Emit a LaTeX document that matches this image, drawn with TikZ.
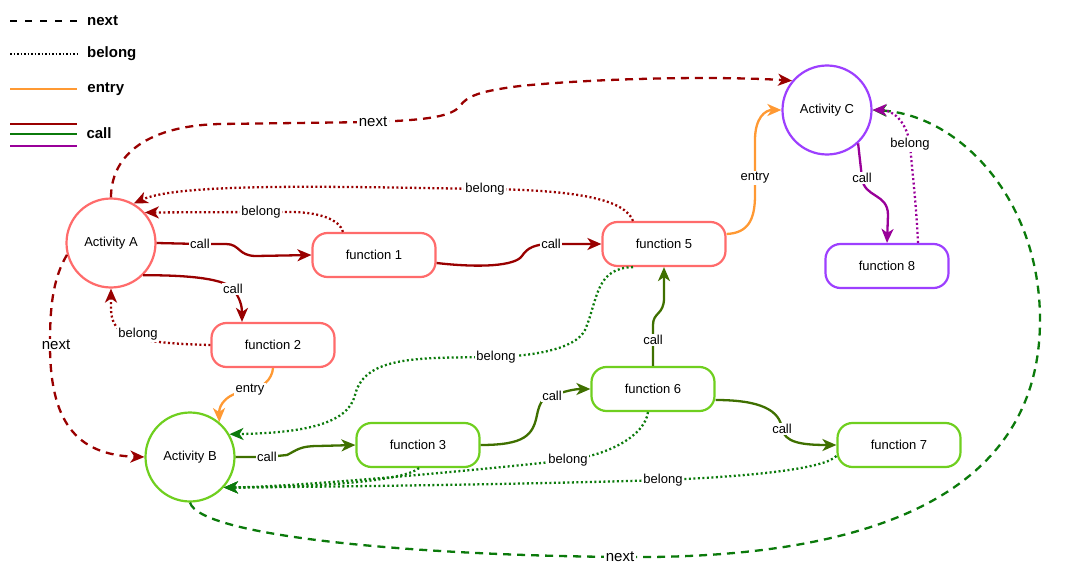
\documentclass[tikz,border=0pt]{standalone}
\usepackage{fontspec}
\setmainfont{Liberation Sans}
\usetikzlibrary{arrows.meta}
\definecolor{linered}{HTML}{990000}
\definecolor{linegreen}{HTML}{0B7A0B}
\definecolor{lineolive}{HTML}{3F7000}
\definecolor{linepurple}{HTML}{990099}
\definecolor{lineorange}{HTML}{FF9933}
\definecolor{boxred}{HTML}{FF6B6B}
\definecolor{boxgreen}{HTML}{6FCF1F}
\definecolor{boxpurple}{HTML}{9D3FFF}

\begin{document}
\begin{tikzpicture}[x=1pt, y=-1pt,
  every node/.style={font=\fontsize{13}{15}\selectfont},
  activity/.style={draw, circle, line width=2.2pt, minimum size=89pt, inner sep=0pt, fill=white},
  funcbox/.style={draw, rectangle, rounded corners=15pt, line width=2.2pt, minimum width=123pt, minimum height=44pt, fill=white},
  headed/.style={-{Stealth[length=14pt, width=12pt, inset=4pt]}},
  lbl/.style={fill=white, inner sep=1.5pt, text=black},
  nextlbl/.style={font=\fontsize{15}{18}\selectfont},
  legtxt/.style={anchor=west, text=black, font=\fontsize{15}{18}\selectfont\bfseries},
  nextred/.style={draw=linered, line width=2.3pt, dash pattern=on 8pt off 6pt, headed},
  nextgreen/.style={draw=linegreen, line width=2.3pt, dash pattern=on 8pt off 6pt, headed},
  belongred/.style={draw=linered, line width=2.3pt, dash pattern=on 2pt off 2.5pt, headed},
  belonggreen/.style={draw=linegreen, line width=2.3pt, dash pattern=on 2pt off 2.5pt, headed},
  belongpurple/.style={draw=linepurple, line width=2.3pt, dash pattern=on 2pt off 2.5pt, headed},
  callred/.style={draw=linered, line width=2.3pt, headed},
  callgreen/.style={draw=lineolive, line width=2.3pt, headed},
  callpurple/.style={draw=linepurple, line width=2.3pt, headed},
  entryline/.style={draw=lineorange, line width=2.3pt, headed}]
\useasboundingbox (0,0) rectangle (1080,578);

 % Legend
 \draw[draw=black, line width=1.8pt, dash pattern=on 7pt off 8pt] (10,21) -- (77,21) node[legtxt, xshift=6pt] (lnext) {next};
 \draw[draw=black, line width=1.8pt, dash pattern=on 1.5pt off 2pt] (10,54) -- (77,54) node[legtxt, xshift=6pt] (lbelong) {belong};
 \draw[draw=lineorange, line width=2.2pt] (10,89) -- (77,89) node[legtxt, xshift=6pt] (lentry) {entry};
 \draw[draw=linered, line width=2.2pt] (10,124) -- (77,124);
 \draw[draw=linegreen, line width=2.2pt] (10,134) -- (77,134);
 \draw[draw=linepurple, line width=2.2pt] (10,146) -- (77,146);
 \node[legtxt] (lcall) at (83,133) {call};

 %Nodes
 \node[activity, draw=boxred] (actA) at (111,243) {Activity A};
 \node[activity, draw=boxgreen] (actB) at (190,457) {Activity B};
 \node[activity, draw=boxpurple] (actC) at (827,110) {Activity C};
 \node[funcbox, draw=boxred] (fun1) at (374,255) {function 1};
 \node[funcbox, draw=boxred] (fun2) at (273,345) {function 2};
 \node[funcbox, draw=boxgreen] (fun3) at (418,445) {function 3};
 \node[funcbox, draw=boxred] (fun5) at (664,244) {function 5};
 \node[funcbox, draw=boxgreen] (fun6) at (653,389) {function 6};
 \node[funcbox, draw=boxgreen] (fun7) at (899,445) {function 7};
 \node[funcbox, draw=boxpurple] (fun8) at (887,266) {function 8};

 % Arrows
 % next
 \draw[nextred] (actA.north) .. controls (111,160) and (140,126) .. (220,124) -- (373,122) node[lbl, nextlbl] {next}
   .. controls (430,120) and (452,116) .. (460,106) .. controls (467,96) and (480,91) .. (520,86)
   .. controls (600,78) and (720,76) .. (actC.140);
 \draw[nextred] (actA.195) .. controls (52,280) and (50,310) .. (50,345) node[lbl, nextlbl, xshift=6pt] {next}
   .. controls (50,420) and (75,455) .. (actB.west);
 \draw[nextgreen] (actB.south) .. controls (200,535) and (400,555) .. (620,557) node[lbl, nextlbl] {next}
   .. controls (880,560) and (1040,490) .. (1040,320) .. controls (1040,200) and (960,115) .. (actC.east);

 % call
 \draw[callred] (actA.east) -- (200,244) node[lbl] {call} -- (226,244) .. controls (240,244) and (238,256) .. (256,256) -- (fun1.west);
 \draw[callred] (actA.-45) .. controls (190,275) and (225,279) .. (233,289) node[lbl] {call}
   .. controls (240,298) and (242,306) .. ([xshift=-31pt]fun2.north);
 \draw[callred] ([yshift=-8pt]fun1.east) .. controls (480,268) and (515,266) .. (522,256)
   .. controls (527,248) and (535,244) .. (551,244) node[lbl] {call} -- (fun5.west);
 \draw[callgreen] (actB.east) -- (267,457) node[lbl] {call} -- (287,455) .. controls (297,450) and (300,446) .. (318,446) -- (fun3.west);
 \draw[callgreen] (fun3.east) .. controls (525,445) and (533,435) .. (537,415) .. controls (540,400) and (545,396) .. (552,396) node[lbl] {call}
   .. controls (565,391) and (575,389) .. (fun6.west);
 \draw[callgreen] (fun6.north) -- (653,340) node[lbl] {call} -- (653,325) .. controls (653,312) and (664,315) .. (664,298) -- (fun5.south);
 \draw[callgreen] ([yshift=-11pt]fun6.east) .. controls (760,400) and (780,410) .. (782,429) node[lbl] {call}
   .. controls (785,442) and (800,445) .. (fun7.west);
 \draw[callpurple] (actC.-47) -- (862,178) node[lbl] {call} .. controls (864,198) and (888,193) .. (888,215) -- (fun8.north);

 % entry
 \draw[entryline] (fun2.south) .. controls (272,380) and (262,388) .. (250,390) node[lbl] {entry}
   .. controls (226,393) and (219,405) .. (actB.50);
 \draw[entryline] ([yshift=10pt]fun5.east) .. controls (748,233) and (755,220) .. (755,195) -- (755,178) node[lbl] {entry}
   -- (755,140) .. controls (755,118) and (765,110) .. (actC.west);

 % belong
 \draw[belongred] ([xshift=-31pt]fun1.north) .. controls (340,220) and (320,212) .. (290,212) -- (261,212) node[lbl] {belong} -- (actA.42);
 \draw[belongred] ([xshift=-31pt]fun5.north) .. controls (625,200) and (580,190) .. (485,189) node[lbl] {belong}
   .. controls (350,187) and (180,182) .. (actA.60);
 \draw[belongred] (fun2.west) .. controls (130,343) and (112,335) .. (111,310) -- (actA.south) node[lbl] at (138,334) {belong};
 \draw[belongpurple] ([xshift=31pt]fun8.north) .. controls (916,200) and (912,170) .. (910,144) node[lbl] {belong}
   .. controls (906,120) and (892,110) .. (actC.east);
 \draw[belonggreen] ([xshift=-31pt]fun5.south) .. controls (595,268) and (598,300) .. (585,330)
   .. controls (575,350) and (530,356) .. (496,357) node[lbl] {belong}
   .. controls (420,358) and (365,355) .. (355,395) .. controls (348,425) and (300,433) .. (actB.30);
 \draw[belonggreen] ([xshift=1pt]fun3.south) .. controls (405,480) and (330,487) .. (actB.-42);
 \draw[belonggreen] ([xshift=-5pt]fun6.south) .. controls (645,435) and (610,455) .. (568,460) node[lbl] {belong}
   .. controls (520,466) and (300,487) .. (actB.-42);
 \draw[belonggreen] ([yshift=-11pt]fun7.west) .. controls (825,468) and (760,476) .. (663,480) node[lbl] {belong}
   .. controls (500,485) and (300,487) .. (actB.-42);
\end{tikzpicture}
\end{document}
